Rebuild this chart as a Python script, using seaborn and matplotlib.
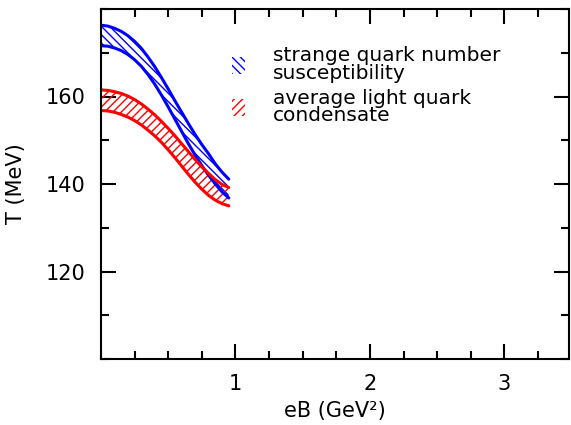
import matplotlib
matplotlib.use("Agg")
import matplotlib.pyplot as plt
import seaborn as sns
import pandas as pd
from matplotlib.patches import Patch
from matplotlib.ticker import MultipleLocator, FixedLocator

# ---- data ----
eB = [0.00, 0.05, 0.10, 0.15, 0.20, 0.25, 0.30, 0.35, 0.40, 0.45,
      0.50, 0.55, 0.60, 0.65, 0.70, 0.75, 0.80, 0.85, 0.90, 0.95]
blue_upper = [176.3, 176.1, 175.6, 174.9, 173.9, 172.6, 171.0, 169.0, 166.8, 164.3,
              161.7, 159.0, 156.4, 153.8, 151.3, 149.0, 146.9, 144.6, 142.7, 141.1]
blue_lower = [171.6, 171.5, 171.1, 170.5, 169.6, 168.4, 166.9, 165.0, 162.8, 160.3,
              157.6, 154.8, 152.0, 149.2, 146.6, 144.2, 142.0, 140.0, 138.2, 136.8]
red_upper = [161.5, 161.4, 161.1, 160.7, 160.1, 159.3, 158.3, 157.1, 155.8, 154.3,
             152.7, 151.0, 149.2, 147.4, 145.6, 143.9, 142.4, 141.0, 139.9, 139.2]
red_lower = [156.8, 156.7, 156.4, 155.9, 155.3, 154.5, 153.5, 152.3, 151.0, 149.5,
             147.8, 146.0, 144.1, 142.2, 140.4, 138.8, 137.4, 136.3, 135.5, 135.0]

labels = ["strange quark number\nsusceptibility", "average light quark\ncondensate"]
colors = ["#0000ff", "#ff0000"]
hatches = ["\\\\\\\\", "////"]
xticks = [1, 2, 3]
yticks = [120, 140, 160]

sns.set_theme(style="ticks")
plt.rcParams["font.family"] = ["DejaVu Sans"]
plt.rcParams["hatch.linewidth"] = 1.0
plt.rcParams["text.color"] = "black"
plt.rcParams["axes.labelcolor"] = "black"

fig = plt.figure(figsize=(5.71, 4.25), dpi=100)
ax = fig.add_axes([101 / 571, 66 / 425, 468 / 571, 350 / 425])

df = pd.DataFrame({"eB": eB, "bu": blue_upper, "bl": blue_lower,
                   "ru": red_upper, "rl": red_lower})

series = [("bu", "bl", 0), ("ru", "rl", 1)]
for up, lo, i in series:
    ax.fill_between(df["eB"], df[lo], df[up], facecolor="none",
                    edgecolor=colors[i], hatch=hatches[i], linewidth=0)
    sns.lineplot(data=df, x="eB", y=up, ax=ax, color=colors[i], lw=2.2)
    sns.lineplot(data=df, x="eB", y=lo, ax=ax, color=colors[i], lw=2.2)

ax.set_xlim(0, 3.48)
ax.set_ylim(100, 180)
ax.xaxis.set_major_locator(FixedLocator(xticks))
ax.xaxis.set_minor_locator(MultipleLocator(0.25))
ax.yaxis.set_major_locator(FixedLocator(yticks))
ax.yaxis.set_minor_locator(MultipleLocator(10))
ax.tick_params(which="both", direction="in", top=True, right=True,
               width=1.5, color="black", labelsize=15, labelcolor="black")
ax.tick_params(which="major", length=11, pad=11)
ax.tick_params(which="minor", length=6)
for s in ax.spines.values():
    s.set_linewidth(1.5)
    s.set_color("black")
    s.set_visible(True)

ax.set_xlabel("eB (GeV²)", fontsize=15, labelpad=5)
ax.set_ylabel("T (MeV)", fontsize=15, labelpad=14)

handles = [Patch(facecolor="none", edgecolor=colors[i], hatch=hatches[i], linewidth=0)
           for i in range(2)]
leg = ax.legend(handles, labels, loc="upper left", bbox_to_anchor=(0.28, 0.893),
                frameon=False, fontsize=14.5, handlelength=0.65, handleheight=0.9,
                handletextpad=1.4, labelspacing=0.3, borderpad=0, borderaxespad=0)
for t in leg.get_texts():
    t.set_linespacing(0.9)
    t.set_color("black")

fig.savefig("out.png", dpi=100)
